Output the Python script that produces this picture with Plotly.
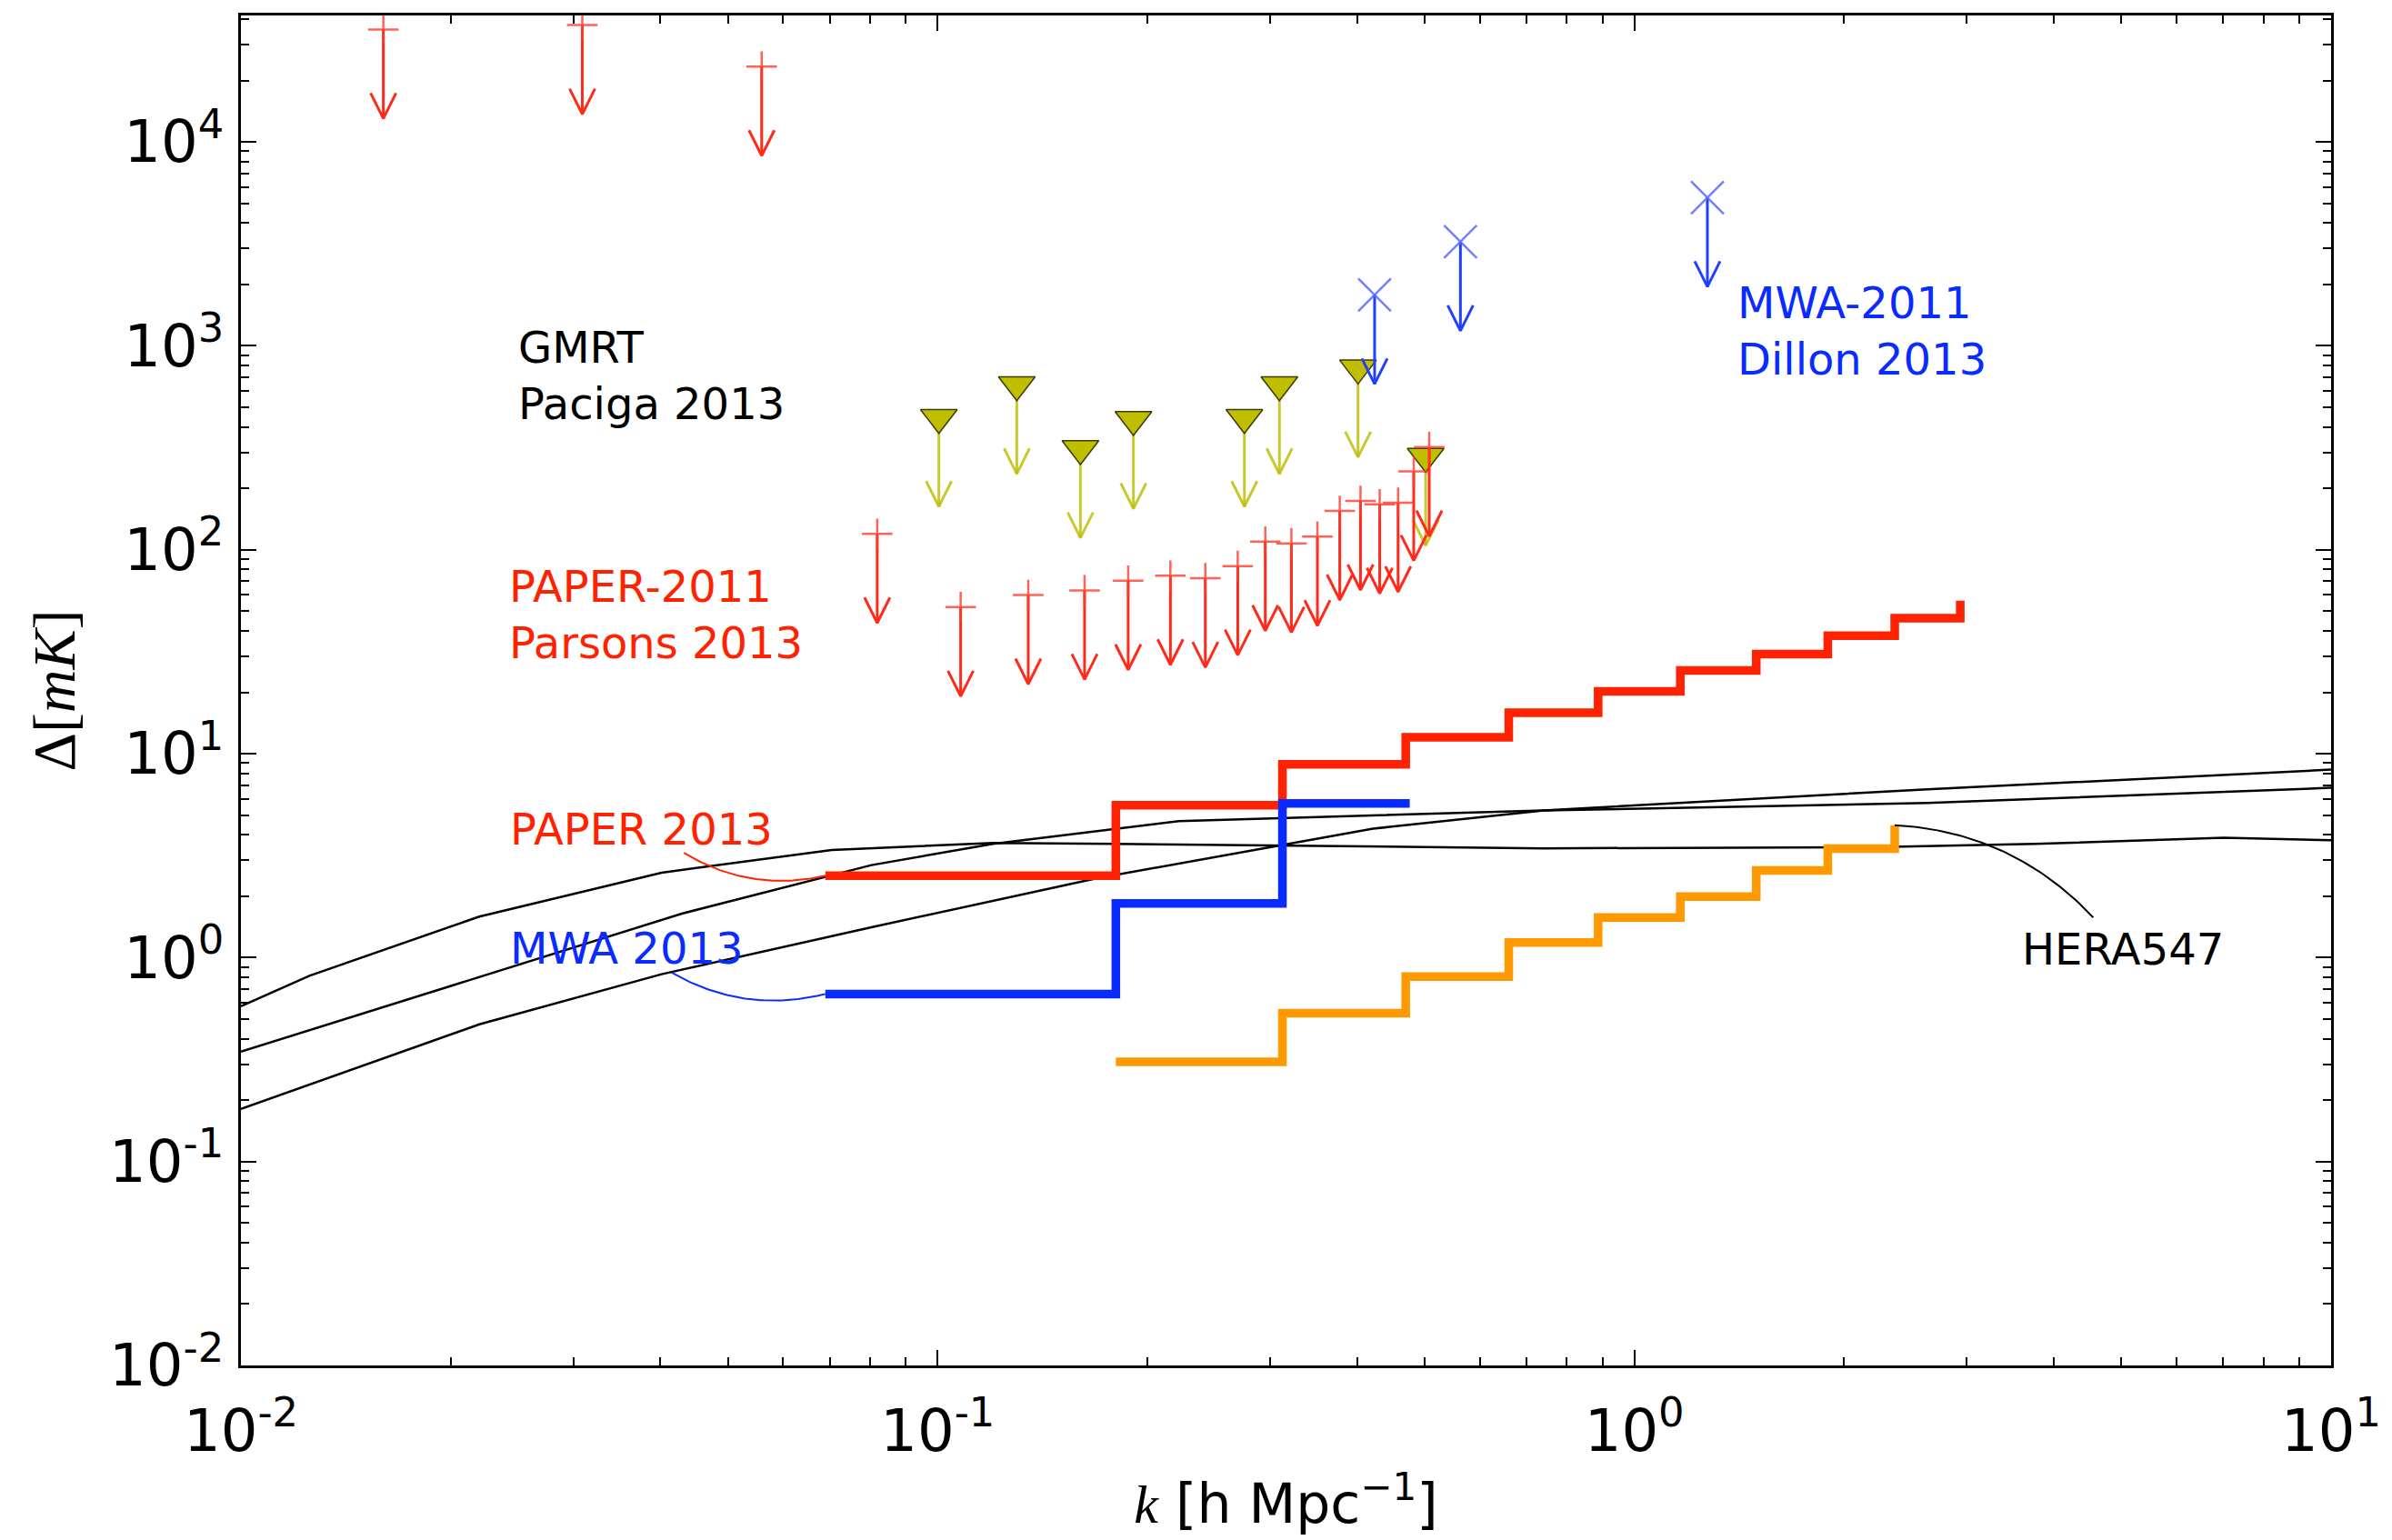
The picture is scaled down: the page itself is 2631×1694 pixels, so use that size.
import numpy as np
import plotly.graph_objects as go

# ------------------------------------------------------------------ data
# Model power spectra (three stages of reionisation)
model_a_k = [0.0100, 0.01254, 0.02199, 0.04016, 0.07046, 0.1201, 0.1789, 0.7411, 2.174, 3.763, 7.011, 10.0]
model_a_delta = [0.578, 0.815, 1.589, 2.609, 3.372, 3.650, 3.613, 3.435, 3.477, 3.613, 3.866, 3.764]
model_b_k = [0.0100, 0.02199, 0.04294, 0.08034, 0.1201, 0.2218, 0.7411, 2.634, 10.0]
model_b_delta = [0.346, 0.801, 1.643, 2.841, 3.613, 4.669, 5.265, 5.734, 6.800]
model_c_k = [0.0100, 0.02199, 0.04016, 0.08034, 0.1683, 0.3106, 0.4217, 0.7411, 2.634, 10.0]
model_c_delta = [0.181, 0.471, 0.829, 1.409, 2.440, 3.553, 4.287, 5.265, 6.689, 8.350]

# Sensitivity curves (step edges in k)
paper2013_k = [0.0690, 0.1802, 0.3125, 0.4697, 0.6603, 0.8872, 1.164, 1.496, 1.895, 2.364, 2.936]
paper2013_delta = [2.52, 5.58, 8.86, 12.04, 15.89, 20.23, 25.6, 30.8, 37.9, 46.2, 56.2]
mwa2013_k = [0.0690, 0.1802, 0.3125, 0.476]
mwa2013_delta = [0.663, 1.842, 5.71, 5.71]
hera547_k = [0.1802, 0.3125, 0.4697, 0.6603, 0.8872, 1.164, 1.496, 1.895, 2.364]
hera547_delta = [0.308, 0.534, 0.807, 1.186, 1.574, 1.991, 2.674, 3.424, 4.459]

# Upper limits
paper2011_k = [0.01601, 0.0309, 0.0559, 0.0819, 0.1079, 0.1349, 0.1625, 0.1877, 0.2158, 0.2422,
               0.2696, 0.2953, 0.3219, 0.3508, 0.3777, 0.4045, 0.431, 0.458, 0.4823, 0.5077]
paper2011_delta = [35600, 37400, 23400, 119.6, 52.3, 60.0, 63.2, 70.5, 74.6, 72.5,
                   83.2, 109.6, 107.5, 116, 155, 173.5, 167, 170, 242, 319]
gmrt_k = [0.1004, 0.1299, 0.1603, 0.191, 0.2756, 0.3094, 0.4012, 0.5017]
gmrt_delta = [445, 644, 313, 435, 445, 644, 778, 287]
mwa2011_k = [0.4238, 0.5628, 1.273]
mwa2011_delta = [1777, 3240, 5333]

x_tick_vals = [0.01, 0.1, 1, 10]
x_tick_text = ["10<sup>-2</sup>", "10<sup>-1</sup>", "10<sup>0</sup>", "10<sup>1</sup>"]
y_tick_vals = [0.01, 0.1, 1, 10, 100, 1000, 10000]
y_tick_text = ["10<sup>-2</sup>", "10<sup>-1</sup>", "10<sup>0</sup>", "10<sup>1</sup>",
               "10<sup>2</sup>", "10<sup>3</sup>", "10<sup>4</sup>"]

# ------------------------------------------------------------------ geometry
W, H = 2631, 1694
MARGIN = dict(l=265, r=62, t=17, b=192)
X_RANGE = (-2.0, 1.0)
Y_RANGE = (-2.0, 4.62)
PX_X = (W - MARGIN["l"] - MARGIN["r"]) / (X_RANGE[1] - X_RANGE[0])   # pixels per decade
PX_Y = (H - MARGIN["t"] - MARGIN["b"]) / (Y_RANGE[1] - Y_RANGE[0])

ARROW_DROP = 98 / PX_Y      # arrow length in decades
HEAD_HALF = 14 / PX_X       # arrow-head half width in decades of k
HEAD_LEN = 28 / PX_Y        # arrow-head length in decades of Delta

RED = "#ff2200"
BLUE = "#0a2bff"
ORANGE = "#ff9900"
FONT = "DejaVu Sans"
SERIF = "Liberation Serif"


def limit_arrows(k, d):
    """Down-pointing arrows marking upper limits."""
    xs, ys = [], []
    for kk, dd in zip(k, d):
        tip = dd * 10 ** (-ARROW_DROP)
        xs += [kk, kk, None, kk * 10 ** (-HEAD_HALF), kk, kk * 10 ** HEAD_HALF, None]
        ys += [dd, tip, None, tip * 10 ** HEAD_LEN, tip, tip * 10 ** HEAD_LEN, None]
    return xs, ys


def leader(tail, head, rad=0.2, n=60):
    """Curved connector (quadratic arc) from a label to a point, in log space."""
    x0, y0 = tail[0] * PX_X, tail[1] * PX_Y
    x1, y1 = np.log10(head[0]) * PX_X, np.log10(head[1]) * PX_Y
    mx, my = (x0 + x1) / 2, (y0 + y1) / 2
    dx, dy = x1 - x0, y1 - y0
    cx, cy = mx + rad * dy, my - rad * dx
    t = np.linspace(0, 1, n)
    bx = (1 - t) ** 2 * x0 + 2 * (1 - t) * t * cx + t ** 2 * x1
    by = (1 - t) ** 2 * y0 + 2 * (1 - t) * t * cy + t ** 2 * y1
    return 10 ** (bx / PX_X), 10 ** (by / PX_Y)


fig = go.Figure()

# model curves
for kx, dy in [(model_a_k, model_a_delta), (model_b_k, model_b_delta), (model_c_k, model_c_delta)]:
    fig.add_trace(go.Scatter(x=kx, y=dy, mode="lines", line=dict(color="black", width=2.5)))

# sensitivity steps
fig.add_trace(go.Scatter(x=paper2013_k, y=paper2013_delta, mode="lines",
                         line=dict(color=RED, width=9.5, shape="hv")))
fig.add_trace(go.Scatter(x=mwa2013_k, y=mwa2013_delta, mode="lines",
                         line=dict(color=BLUE, width=9.5, shape="hv")))
fig.add_trace(go.Scatter(x=hera547_k, y=hera547_delta, mode="lines",
                         line=dict(color=ORANGE, width=9.5, shape="hv")))

# label connectors
lx, ly = leader((-1.3642, 0.5132), (paper2013_k[0], paper2013_delta[0]))
fig.add_trace(go.Scatter(x=lx, y=ly, mode="lines", line=dict(color=RED, width=2)))
lx, ly = leader((-1.3816, -0.074), (mwa2013_k[0], mwa2013_delta[0]))
fig.add_trace(go.Scatter(x=lx, y=ly, mode="lines", line=dict(color=BLUE, width=2)))
lx, ly = leader((0.6586, 0.197), (hera547_k[-1], hera547_delta[-1]))
fig.add_trace(go.Scatter(x=lx, y=ly, mode="lines", line=dict(color="black", width=2)))

# GMRT limits
ax_, ay_ = limit_arrows(gmrt_k, gmrt_delta)
fig.add_trace(go.Scatter(x=ax_, y=ay_, mode="lines", line=dict(color="rgba(190,190,10,0.85)", width=3)))
fig.add_trace(go.Scatter(x=gmrt_k, y=gmrt_delta, mode="markers",
                         marker=dict(symbol="triangle-down", size=35, color="#bfbf00",
                                     line=dict(color="#3c3c00", width=1.5))))

# PAPER-2011 limits
ax_, ay_ = limit_arrows(paper2011_k, paper2011_delta)
fig.add_trace(go.Scatter(x=ax_, y=ay_, mode="lines", line=dict(color="#ff2a1a", width=3)))
fig.add_trace(go.Scatter(x=paper2011_k, y=paper2011_delta, mode="markers",
                         marker=dict(symbol="cross-thin", size=24,
                                     line=dict(color="rgba(255,60,45,0.8)", width=2.5))))

# MWA-2011 limits
ax_, ay_ = limit_arrows(mwa2011_k, mwa2011_delta)
fig.add_trace(go.Scatter(x=ax_, y=ay_, mode="lines", line=dict(color="#2040ff", width=3)))
fig.add_trace(go.Scatter(x=mwa2011_k, y=mwa2011_delta, mode="markers",
                         marker=dict(symbol="x-thin", size=36,
                                     line=dict(color="rgba(90,105,255,0.85)", width=2.5))))

# text labels
labels = [
    ("GMRT<br>Paciga 2013", -1.6042, 3.1248, "black"),
    ("PAPER-2011<br>Parsons 2013", -1.6180, 1.9523, RED),
    ("PAPER 2013", -1.6160, 0.7620, RED),
    ("MWA 2013", -1.6160, 0.1801, BLUE),
    ("MWA-2011<br>Dillon 2013", 0.1449, 3.3433, BLUE),
    ("HERA547", 0.5534, 0.1757, "black"),
]
for text, x, y, col in labels:
    fig.add_annotation(text=text, x=x, y=y, xref="x", yref="y", xanchor="left", yanchor="top",
                       align="left", showarrow=False, font=dict(family=FONT, size=48, color=col))

minor_x = [m * 10.0 ** e for e in range(-2, 1) for m in range(2, 10)]
minor_y = [m * 10.0 ** e for e in range(-2, 5) for m in range(2, 10) if m * 10.0 ** e < 10 ** Y_RANGE[1]]

axis_common = dict(
    type="log", showline=True, linecolor="black", linewidth=3, mirror="allticks",
    ticks="inside", ticklen=17, tickwidth=2, tickcolor="black",
    showgrid=False, zeroline=False, tickmode="array",
    tickfont=dict(family=FONT, size=64, color="black"),
    minor=dict(ticks="inside", ticklen=9, tickwidth=2, tickcolor="black",
               tickmode="array", showgrid=False),
)

fig.update_layout(
    width=W, height=H, margin=MARGIN,
    paper_bgcolor="white", plot_bgcolor="white", showlegend=False,
    xaxis=dict(axis_common, range=list(X_RANGE), tickvals=x_tick_vals, ticktext=x_tick_text,
               ticklabelstandoff=14,
               title=dict(text='<span style="font-family:Liberation Serif"><i>k</i></span>'
                               ' [h Mpc<sup>\u22121</sup>]',
                          font=dict(family=FONT, size=60, color="black"), standoff=24)),
    yaxis=dict(axis_common, range=list(Y_RANGE), tickvals=y_tick_vals, ticktext=y_tick_text,
               ticklabelstandoff=3,
               title=dict(text="\u0394[<i>mK</i>]",
                          font=dict(family=SERIF, size=66, color="black"), standoff=16)),
)
fig.update_xaxes(minor_tickvals=minor_x)
fig.update_yaxes(minor_tickvals=minor_y)

fig.write_html("out.html", config={"displayModeBar": False})
